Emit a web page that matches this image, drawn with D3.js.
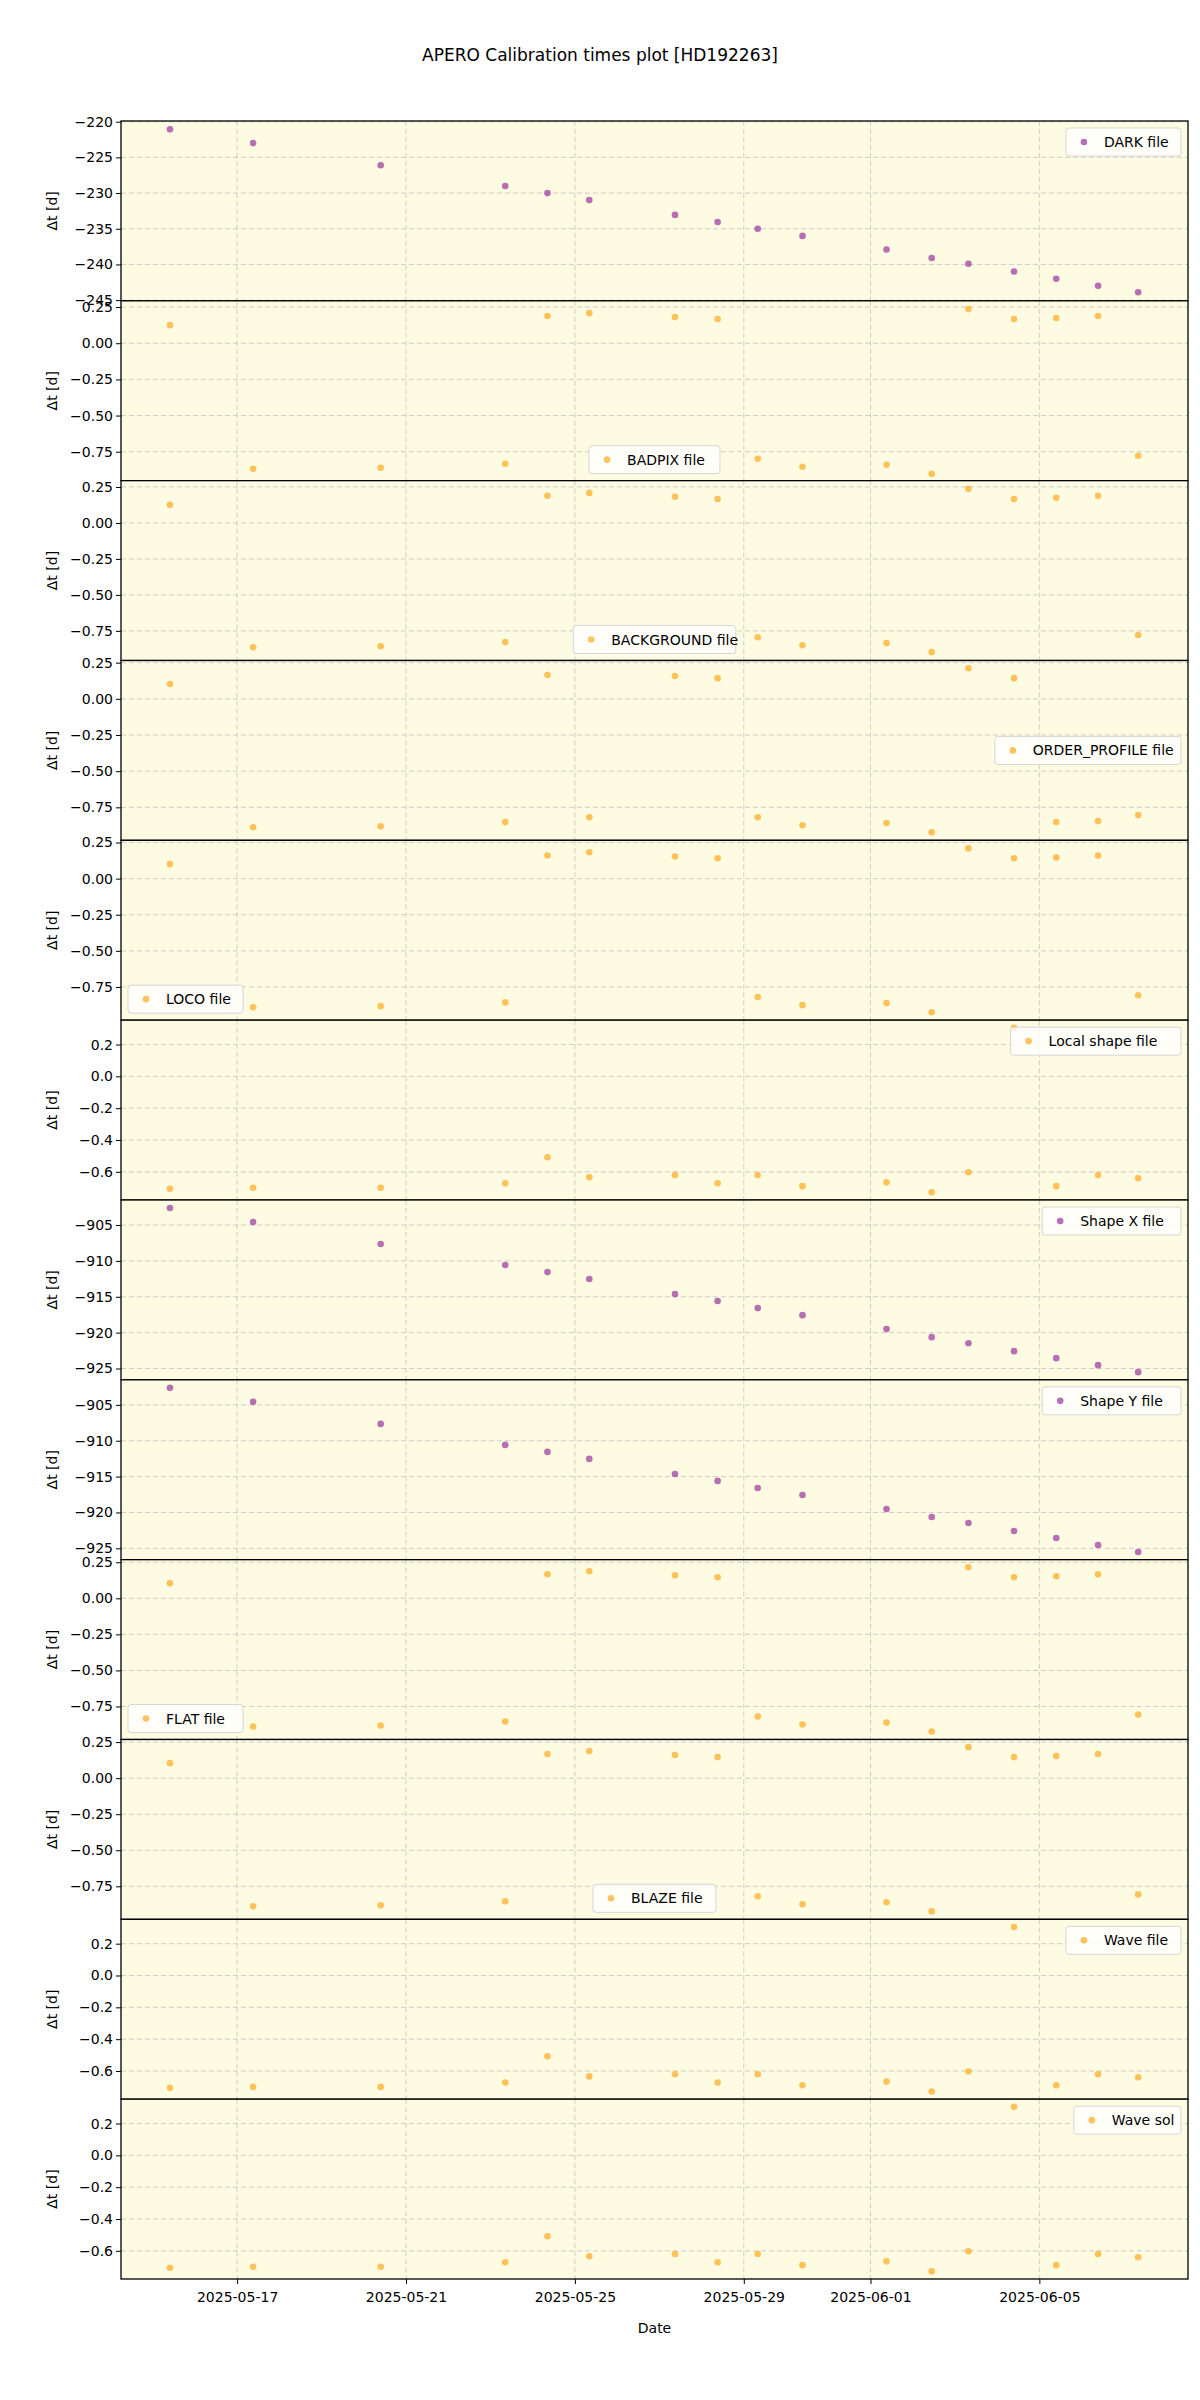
<!DOCTYPE html>
<html>
<head>
<meta charset="utf-8">
<script src="https://cdn.jsdelivr.net/npm/d3@7"></script>
<style>
  body { margin: 0; background: #fff; }
  text { font-family: "DejaVu Sans", sans-serif; }
</style>
</head>
<body>
<svg id="chart"></svg>
<script>
// observation dates (fractional days, UTC)
const dates = [
  "2025-05-15T09:50", "2025-05-17T09:07", "2025-05-20T09:36", "2025-05-23T08:24",
  "2025-05-24T08:24", "2025-05-25T08:10", "2025-05-27T08:53", "2025-05-28T09:07",
  "2025-05-29T07:55", "2025-05-30T09:22", "2025-06-01T09:07", "2025-06-02T10:48",
  "2025-06-03T07:41", "2025-06-04T09:36", "2025-06-05T09:36", "2025-06-06T09:22",
  "2025-06-07T08:10"
];

const darkVals = [-221.07, -223.0, -226.1, -229.0, -230.0, -230.97, -233.06, -234.05, -235.0, -236.0, -237.9, -239.1, -239.9, -241.0, -242.0, -243.0, -243.9];
const badpixVals = [0.125, -0.868, -0.861, -0.833, 0.188, 0.208, 0.181, 0.167, -0.799, -0.854, -0.840, -0.903, 0.236, 0.167, 0.174, 0.188, -0.778];
const backgroundVals = [0.126, -0.864, -0.857, -0.828, 0.189, 0.209, 0.182, 0.167, -0.794, -0.850, -0.835, -0.898, 0.238, 0.167, 0.175, 0.189, -0.779];
const orderProfileVals = [0.102, -0.888, -0.881, -0.852, 0.165, -0.818, 0.158, 0.143, -0.818, -0.874, -0.859, -0.922, 0.211, 0.143, -0.852, -0.845, -0.803];
const locoVals = [0.100, -0.891, -0.883, -0.857, 0.160, 0.182, 0.153, 0.141, -0.820, -0.876, -0.862, -0.925, 0.209, 0.141, 0.146, 0.160, -0.808];
const localShapeVals = [-0.706, -0.700, -0.700, -0.672, -0.508, -0.634, -0.620, -0.672, -0.620, -0.690, -0.666, -0.729, -0.603, 0.305, -0.690, -0.620, -0.640];
const shapeXVals = [-902.63, -904.58, -907.65, -910.58, -911.56, -912.53, -914.63, -915.60, -916.58, -917.56, -919.51, -920.63, -921.47, -922.58, -923.56, -924.53, -925.51];
const shapeYVals = [-902.63, -904.58, -907.65, -910.58, -911.56, -912.53, -914.63, -915.60, -916.58, -917.56, -919.51, -920.63, -921.47, -922.58, -923.56, -924.53, -925.51];
const flatVals = [0.104, -0.889, -0.882, -0.854, 0.167, 0.188, 0.160, 0.146, -0.819, -0.875, -0.861, -0.924, 0.215, 0.146, 0.153, 0.167, -0.806];
const blazeVals = [0.104, -0.889, -0.882, -0.854, 0.167, 0.188, 0.160, 0.146, -0.819, -0.875, -0.861, -0.924, 0.215, 0.146, 0.153, 0.167, -0.806];
const waveVals = [-0.706, -0.700, -0.700, -0.672, -0.508, -0.634, -0.620, -0.672, -0.620, -0.690, -0.666, -0.729, -0.603, 0.305, -0.690, -0.620, -0.640];
const waveSolVals = [-0.706, -0.700, -0.700, -0.672, -0.508, -0.634, -0.620, -0.672, -0.620, -0.690, -0.666, -0.729, -0.603, 0.305, -0.690, -0.620, -0.640];

const panelNames = ["DARK file", "BADPIX file", "BACKGROUND file", "ORDER_PROFILE file", "LOCO file", "Local shape file",
  "Shape X file", "Shape Y file", "FLAT file", "BLAZE file", "Wave file", "Wave sol"];
const panelValues = [darkVals, badpixVals, backgroundVals, orderProfileVals, locoVals, localShapeVals,
  shapeXVals, shapeYVals, flatVals, blazeVals, waveVals, waveSolVals];
const panelKinds = ["purple", "orange", "orange", "orange", "orange", "orange", "purple", "purple", "orange", "orange", "orange", "orange"];
const panelDomains = [[-245.1, -219.9], [-0.95, 0.293], [-0.956, 0.294], [-0.978, 0.265], [-0.98, 0.265], [-0.777, 0.353],
  [-926.58, -901.51], [-926.58, -901.51], [-0.979, 0.268], [-0.979, 0.268], [-0.777, 0.353], [-0.777, 0.353]];
const panelTicks = [
  [-220, -225, -230, -235, -240, -245],
  [0.25, 0, -0.25, -0.5, -0.75], [0.25, 0, -0.25, -0.5, -0.75], [0.25, 0, -0.25, -0.5, -0.75], [0.25, 0, -0.25, -0.5, -0.75],
  [0.2, 0, -0.2, -0.4, -0.6],
  [-905, -910, -915, -920, -925], [-905, -910, -915, -920, -925],
  [0.25, 0, -0.25, -0.5, -0.75], [0.25, 0, -0.25, -0.5, -0.75],
  [0.2, 0, -0.2, -0.4, -0.6], [0.2, 0, -0.2, -0.4, -0.6]
];
const legendLocs = ["upper right", "lower center", "lower center", "center right", "lower left", "upper right",
  "upper right", "upper right", "lower left", "lower center", "upper right", "upper right"];
const xTicks = ["2025-05-17", "2025-05-21", "2025-05-25", "2025-05-29", "2025-06-01", "2025-06-05"];

const width = 1200, height = 2400;
const margin = { top: 121, right: 12, bottom: 121, left: 121 };
const plotW = width - margin.left - margin.right;
const panelH = (height - margin.top - margin.bottom) / panelNames.length;

const colors = { purple: "rgba(153, 50, 160, 0.7)", orange: "rgba(255, 170, 30, 0.7)" };
const fmt = d3.format(".2f");
const parse = d3.utcParse("%Y-%m-%dT%H:%M");
const parseDay = d3.utcParse("%Y-%m-%d");

const svg = d3.select("#chart").attr("width", width).attr("height", height);

const x = d3.scaleUtc()
  .domain([parse("2025-05-14T06:00"), parse("2025-06-08T12:29")])
  .range([0, plotW]);

svg.append("text")
  .attr("x", 600).attr("y", 61)
  .attr("text-anchor", "middle")
  .style("font-size", "17px")
  .text("APERO Calibration times plot [HD192263]");

panelNames.forEach((name, i) => {
  const g = svg.append("g")
    .attr("transform", `translate(${margin.left}, ${margin.top + i * panelH})`);

  const y = d3.scaleLinear().domain(panelDomains[i]).range([panelH, 0]);

  g.append("rect").attr("width", plotW).attr("height", panelH).attr("fill", "#fdfbe1");

  // grid
  g.selectAll(".vgrid").data(xTicks).enter().append("line")
    .attr("x1", (d) => x(parseDay(d))).attr("x2", (d) => x(parseDay(d)))
    .attr("y1", 0).attr("y2", panelH)
    .attr("stroke", "#c8c8c8").attr("stroke-dasharray", "5,3").attr("stroke-width", 0.9);
  g.selectAll(".hgrid").data(panelTicks[i]).enter().append("line")
    .attr("x1", 0).attr("x2", plotW)
    .attr("y1", (d) => y(d)).attr("y2", (d) => y(d))
    .attr("stroke", "#c8c8c8").attr("stroke-dasharray", "5,3").attr("stroke-width", 0.9);

  // y axis
  const isOrange = panelKinds[i] === "orange" && panelTicks[i][0] === 0.25;
  const yAxis = d3.axisLeft(y).tickValues(panelTicks[i]).tickSizeOuter(0).tickSize(5)
    .tickFormat((d) => {
      let s = isOrange ? fmt(d) : (Number.isInteger(d) ? String(d) : d3.format(".1f")(d));
      if (d === 0) s = isOrange ? "0.00" : (panelTicks[i][0] === 0.2 ? "0.0" : "0");
      return s.replace("-", "\u2212");
    });
  const ya = g.append("g").call(yAxis);
  ya.select(".domain").remove();
  ya.selectAll("text").style("font-size", "14px").style("font-family", "DejaVu Sans");

  g.append("text")
    .attr("transform", `translate(-64, ${panelH / 2}) rotate(-90)`)
    .attr("text-anchor", "middle")
    .style("font-size", "14px")
    .text("\u0394t [d]");

  // points
  g.selectAll("circle").data(panelValues[i]).enter().append("circle")
    .attr("cx", (d, j) => x(parse(dates[j])))
    .attr("cy", (d) => y(d))
    .attr("r", 3.3)
    .attr("fill", colors[panelKinds[i]]);

  // frame
  g.append("rect").attr("width", plotW).attr("height", panelH)
    .attr("fill", "none").attr("stroke", "#000").attr("stroke-width", 1.3);

  // legend
  const lw = name.length * 7.9 + 44, lh = 28;
  const loc = legendLocs[i];
  let lx, ly;
  if (loc.includes("right")) lx = plotW - lw - 7;
  else if (loc.includes("left")) lx = 7;
  else lx = (plotW - lw) / 2;
  if (loc.startsWith("upper")) ly = 7;
  else if (loc.startsWith("lower")) ly = panelH - lh - 7;
  else ly = (panelH - lh) / 2;
  const lg = g.append("g").attr("transform", `translate(${lx}, ${ly})`);
  lg.append("rect").attr("width", lw).attr("height", lh).attr("rx", 3)
    .attr("fill", "rgba(255,255,255,0.8)").attr("stroke", "#d6d6d6");
  lg.append("circle").attr("cx", 18).attr("cy", lh / 2).attr("r", 3.3).attr("fill", colors[panelKinds[i]]);
  lg.append("text").attr("x", 38).attr("y", lh / 2 + 5).style("font-size", "14px").text(name);

  // x axis on bottom panel
  if (i === panelNames.length - 1) {
    const xa = g.append("g").attr("transform", `translate(0, ${panelH})`)
      .call(d3.axisBottom(x).tickValues(xTicks.map(parseDay)).tickFormat(d3.utcFormat("%Y-%m-%d")).tickSize(5).tickSizeOuter(0));
    xa.select(".domain").remove();
    xa.selectAll("text").style("font-size", "14px").style("font-family", "DejaVu Sans").attr("dy", "1.1em");
    g.append("text").attr("x", plotW / 2).attr("y", panelH + 54)
      .attr("text-anchor", "middle").style("font-size", "14px").text("Date");
  }
});
</script>
</body>
</html>
